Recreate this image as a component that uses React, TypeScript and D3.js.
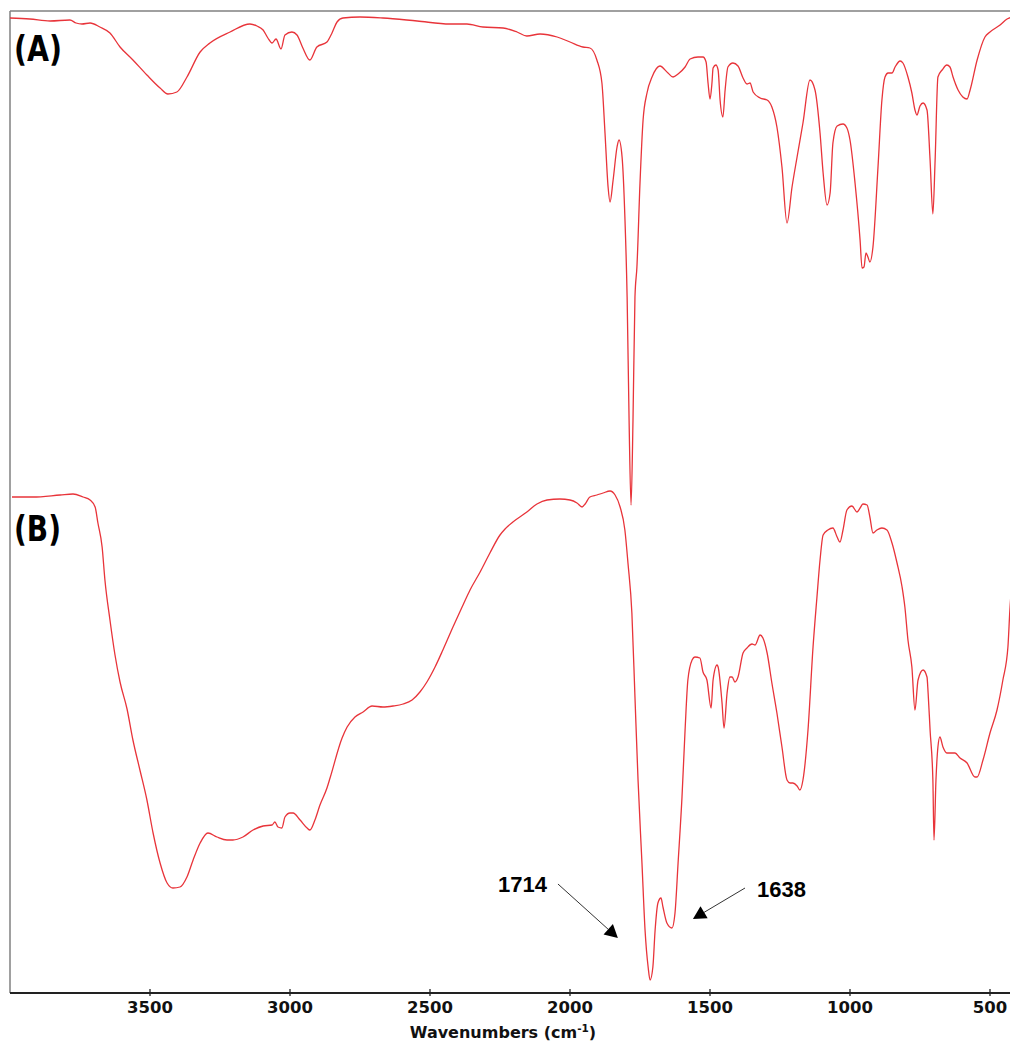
import React from "react";
import * as d3 from "d3";

// FT-IR spectra: [wavenumber (cm-1), transmittance (%)]
const spectrumA: [number, number][] = [
  [4000, 99.8], [3929, 99.6], [3857, 99.2], [3786, 99.4], [3764, 98.8], [3743, 98.6], [3714, 98.8],
  [3679, 98.0], [3643, 96.8], [3607, 94.0], [3561, 91.4], [3511, 88.4], [3464, 85.8], [3436, 84.6],
  [3404, 85.0], [3368, 88.0], [3321, 93.0], [3286, 94.8], [3214, 97.0], [3143, 98.6], [3118, 98.2],
  [3096, 97.4], [3079, 95.8], [3064, 94.8], [3050, 95.6], [3032, 93.6], [3018, 96.4], [2993, 97.0],
  [2975, 96.4], [2954, 93.8], [2929, 91.4], [2904, 94.0], [2868, 95.0], [2850, 96.8], [2832, 99.0],
  [2811, 99.8], [2750, 100.0], [2668, 99.8], [2546, 99.2], [2429, 98.6], [2368, 98.6], [2311, 98.0],
  [2239, 97.8], [2189, 97.0], [2154, 96.2], [2107, 96.6], [2046, 96.0], [2000, 95.0], [1954, 94.0],
  [1929, 93.8], [1904, 91.4], [1886, 86.8], [1875, 76.8], [1864, 66.0], [1857, 63.0], [1846, 67.4],
  [1832, 74.0], [1825, 75.4], [1814, 72.0], [1804, 60.0], [1796, 44.0], [1789, 19.4], [1782, 2.4],
  [1775, 19.4], [1768, 44.0], [1761, 50.0], [1750, 66.8], [1739, 79.4], [1725, 84.8], [1707, 88.0],
  [1679, 90.2], [1650, 88.8], [1632, 88.0], [1614, 88.6], [1589, 90.0], [1571, 91.6], [1543, 92.0],
  [1525, 92.0], [1514, 91.0], [1507, 86.8], [1500, 83.6], [1493, 86.8], [1489, 89.8], [1479, 90.4],
  [1471, 89.4], [1464, 83.4], [1454, 80.0], [1446, 85.4], [1436, 90.0], [1418, 90.8], [1400, 90.2],
  [1382, 87.8], [1368, 86.6], [1357, 86.8], [1346, 85.0], [1321, 83.8], [1296, 83.4], [1279, 82.0],
  [1261, 78.0], [1243, 70.0], [1225, 58.8], [1207, 66.0], [1189, 72.0], [1168, 78.8], [1143, 87.4],
  [1125, 85.4], [1107, 76.8], [1096, 68.8], [1082, 62.4], [1071, 64.8], [1061, 74.8], [1046, 78.2],
  [1025, 78.6], [1011, 77.8], [1000, 75.4], [982, 66.8], [964, 55.4], [957, 49.8], [950, 50.0],
  [943, 52.8], [936, 52.0], [929, 51.0], [918, 54.0], [900, 70.0], [886, 83.4], [875, 88.0],
  [864, 88.8], [850, 88.8], [839, 90.0], [821, 91.2], [811, 90.8], [793, 88.0], [779, 84.8],
  [768, 81.4], [761, 80.4], [750, 82.2], [739, 82.8], [725, 81.4], [714, 71.4], [704, 60.6],
  [696, 71.4], [686, 88.0], [671, 89.4], [654, 90.4], [643, 90.0], [632, 88.0], [614, 85.4],
  [597, 84.0], [582, 83.6], [571, 85.4], [546, 91.4], [518, 96.0], [500, 97.0], [464, 98.4],
  [439, 99.6], [421, 100.0], [400, 100.2],
];

const spectrumB: [number, number][] = [
  [3993, 98.6], [3918, 98.6], [3821, 99.0], [3775, 99.2], [3739, 98.6], [3714, 98.0], [3696, 96.6],
  [3686, 93.4], [3671, 88.6], [3661, 82.0], [3643, 74.0], [3625, 67.0], [3607, 61.6], [3582, 56.2],
  [3561, 50.0], [3536, 44.0], [3511, 38.0], [3489, 31.4], [3464, 25.4], [3439, 21.4], [3418, 20.4],
  [3393, 20.6], [3368, 22.6], [3346, 26.0], [3321, 29.4], [3293, 31.4], [3261, 30.6], [3225, 30.0],
  [3204, 30.0], [3168, 30.6], [3132, 32.0], [3096, 32.8], [3064, 33.0], [3054, 33.6], [3043, 32.6],
  [3029, 32.4], [3018, 34.6], [3000, 35.4], [2989, 35.4], [2964, 34.0], [2939, 32.4], [2929, 32.0],
  [2911, 34.0], [2893, 37.0], [2868, 40.4], [2857, 42.4], [2814, 50.4], [2796, 52.6], [2768, 54.6],
  [2739, 55.6], [2707, 56.8], [2668, 56.6], [2632, 56.8], [2596, 57.2], [2564, 58.0], [2536, 59.6],
  [2511, 61.6], [2482, 64.6], [2454, 68.0], [2418, 72.6], [2382, 77.0], [2357, 80.0], [2321, 83.6],
  [2286, 87.4], [2250, 91.0], [2232, 92.2], [2204, 93.6], [2154, 95.6], [2118, 97.2], [2082, 98.0],
  [2036, 98.2], [2000, 98.0], [1975, 97.4], [1957, 96.6], [1946, 97.2], [1929, 98.6], [1904, 99.0],
  [1882, 99.4], [1857, 99.8], [1839, 99.0], [1821, 96.6], [1804, 92.0], [1793, 85.4], [1779, 75.4],
  [1768, 58.6], [1757, 42.0], [1743, 25.4], [1732, 12.0], [1721, 4.6], [1714, 2.0], [1704, 4.6],
  [1696, 12.0], [1686, 17.4], [1675, 18.4], [1668, 16.6], [1654, 13.4], [1636, 12.4], [1625, 15.4],
  [1614, 25.4], [1600, 38.6], [1589, 52.0], [1579, 62.0], [1564, 66.0], [1554, 66.6], [1536, 66.4],
  [1525, 63.6], [1511, 62.0], [1496, 56.4], [1489, 62.0], [1475, 65.0], [1471, 64.6], [1457, 57.4],
  [1450, 52.4], [1439, 59.4], [1429, 62.6], [1421, 62.6], [1411, 61.6], [1400, 62.6], [1382, 67.4],
  [1368, 68.4], [1350, 69.2], [1339, 69.0], [1321, 71.0], [1311, 70.4], [1296, 67.4], [1279, 61.4],
  [1261, 55.4], [1243, 48.6], [1225, 42.0], [1214, 41.4], [1204, 41.4], [1189, 40.8], [1179, 40.0],
  [1168, 42.0], [1150, 52.0], [1132, 68.6], [1118, 78.6], [1107, 86.0], [1096, 91.0], [1079, 92.0],
  [1061, 92.4], [1046, 90.6], [1036, 89.6], [1025, 92.0], [1011, 96.0], [993, 96.8], [975, 95.6],
  [964, 96.4], [954, 97.2], [939, 97.0], [929, 94.6], [918, 91.4], [904, 92.0], [886, 92.4],
  [868, 92.0], [850, 89.4], [832, 85.4], [814, 80.6], [804, 76.6], [793, 70.0], [779, 64.6],
  [768, 56.0], [757, 62.0], [739, 64.0], [725, 62.6], [721, 59.4], [714, 52.0], [704, 42.0],
  [700, 30.0], [693, 42.0], [686, 48.6], [679, 50.6], [668, 48.6], [654, 47.4], [625, 47.4],
  [607, 46.4], [582, 45.4], [554, 42.6], [546, 42.6], [525, 46.0], [500, 51.4], [475, 56.0],
  [454, 62.0], [436, 68.6], [429, 76.0], [414, 86.0], [400, 93.0],
];

const xTicks = [3500, 3000, 2500, 2000, 1500, 1000, 500];
const panelLabels = ["(A)", "(B)"];

// annotation arrows in data units (on spectrum B)
const annotations = [
  { label: "1714", textW: 2082, textT: 19.6, anchor: "end", fromW: 2043, fromT: 21.2, tipW: 1829, tipT: 10.4 },
  { label: "1638", textW: 1332, textT: 18.6, anchor: "start", fromW: 1375, fromT: 20.4, tipW: 1561, tipT: 14.2 },
];

const W = 1010;
const H = 1043;
const left = 10;
const top = 11;
const axisY = 993;

export default function App() {
  const x = d3.scaleLinear().domain([4000, 400]).range([left, left + 3600 * 0.28]);
  const yA = d3.scaleLinear().domain([0, 100]).range([517, 17]);
  const yB = d3.scaleLinear().domain([0, 100]).range([990, 490]);

  const lineA = d3
    .line<[number, number]>()
    .x((d) => x(d[0]))
    .y((d) => yA(d[1]))
    .curve(d3.curveMonotoneX);
  const lineB = d3
    .line<[number, number]>()
    .x((d) => x(d[0]))
    .y((d) => yB(d[1]))
    .curve(d3.curveMonotoneX);

  const red = "#e8343a";

  return (
    <div style={{ position: "absolute", left: 0, top: 0 }}>
      <svg width={W} height={H} viewBox={`0 0 ${W} ${H}`} style={{ display: "block", background: "#fff" }}>
        <rect x={0} y={0} width={W} height={H} fill="#fff" />
        {/* frame */}
        <line x1={left} x2={W} y1={top} y2={top} stroke="#808080" strokeWidth={1.5} />
        <line x1={left} x2={left} y1={top} y2={axisY} stroke="#808080" strokeWidth={1.5} />

        {/* spectra */}
        <path d={lineA(spectrumA) || ""} fill="none" stroke={red} strokeWidth={1.3} />
        <path d={lineB(spectrumB) || ""} fill="none" stroke={red} strokeWidth={1.3} />

        {/* x axis */}
        <line x1={left} x2={W} y1={axisY} y2={axisY} stroke="#222" strokeWidth={2} />
        {xTicks.map((t) => (
          <g key={t}>
            <line x1={x(t)} x2={x(t)} y1={axisY - 4} y2={axisY + 3} stroke="#222" strokeWidth={1.3} />
            <text
              x={x(t)}
              y={1013}
              textAnchor="middle"
              fontFamily="DejaVu Sans"
              fontWeight="bold"
              fontSize={16.5}
              fill="#111"
            >
              {t}
            </text>
          </g>
        ))}
        <text x={503} y={1038} textAnchor="middle" fontFamily="DejaVu Sans" fontWeight="bold" fontSize={16} fill="#111">
          Wavenumbers (cm
          <tspan fontSize={10.5} dy={-6}>-1</tspan>
          <tspan dy={6}>)</tspan>
        </text>

        {/* panel labels */}
        <text x={14} y={61} fontFamily="DejaVu Sans" fontWeight="bold" fontSize={35} textLength={48} lengthAdjust="spacingAndGlyphs" fill="#000">
          {panelLabels[0]}
        </text>
        <text x={14} y={541} fontFamily="DejaVu Sans" fontWeight="bold" fontSize={35} textLength={47} lengthAdjust="spacingAndGlyphs" fill="#000">
          {panelLabels[1]}
        </text>

        {/* annotations */}
        {annotations.map((a) => {
          const x0 = x(a.fromW);
          const y0 = yB(a.fromT);
          const x1 = x(a.tipW);
          const y1 = yB(a.tipT);
          const dx = x1 - x0;
          const dy = y1 - y0;
          const len = Math.hypot(dx, dy);
          const ux = dx / len;
          const uy = dy / len;
          const hl = 13;
          const hw = 7;
          const bx = x1 - ux * hl;
          const by = y1 - uy * hl;
          const pts = [
            [x1, y1],
            [bx - uy * hw, by + ux * hw],
            [bx + uy * hw, by - ux * hw],
          ]
            .map((p) => p.join(","))
            .join(" ");
          return (
            <g key={a.label}>
              <line x1={x0} y1={y0} x2={bx} y2={by} stroke="#333" strokeWidth={1} />
              <polygon points={pts} fill="#000" />
              <text
                x={x(a.textW)}
                y={yB(a.textT)}
                textAnchor={a.anchor as any}
                fontFamily="Liberation Sans, Arial, sans-serif"
                fontWeight="bold"
                fontSize={22}
                fill="#000"
              >
                {a.label}
              </text>
            </g>
          );
        })}
      </svg>
    </div>
  );
}
